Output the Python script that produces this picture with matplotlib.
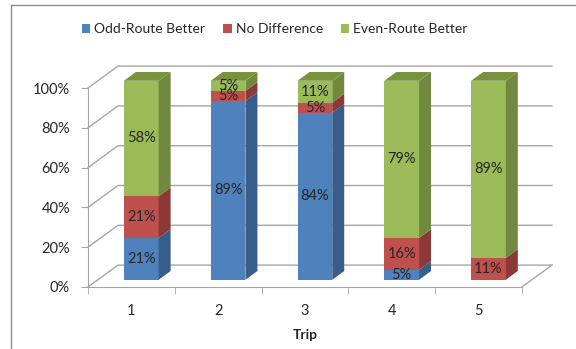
import numpy as np
import matplotlib
import matplotlib.pyplot as plt
from matplotlib.patches import Polygon, Rectangle
from matplotlib.lines import Line2D

matplotlib.use('Agg')
plt.rcParams['font.family'] = ['Lato', 'DejaVu Sans']

trips = ['1', '2', '3', '4', '5']
series_names = ['Odd-Route Better', 'No Difference', 'Even-Route Better']
odd_better = [21, 89, 84, 5, 0]
no_difference = [21, 5, 5, 16, 11]
even_better = [58, 5, 11, 79, 89]

front_colors = ['#4f81bd', '#c0504d', '#9bbb59']
side_colors = ['#385d8a', '#8c3836', '#71893f']
top_colors = ['#3f6899', '#9b3d3a', '#77933c']

GRID = '#a6a6a6'
TEXT = '#262626'

# depth of the floor in data units (x in categories, y in percent)
DX, DY = 0.345, 11.0
F_FRONT, F_BACK = 0.33, 0.73
BAR_W = 0.40


def draw_walls(ax):
    for y in range(0, 101, 20):
        ax.add_line(Line2D([0.5, 0.5 + DX, 5.5 + DX], [y, y + DY, y + DY],
                           color=GRID, lw=1, clip_on=False, zorder=1))
    ax.add_line(Line2D([5.5, 5.5 + DX], [0, DY], color=GRID, lw=1, clip_on=False, zorder=1))


def draw_bar(ax, xc, bottom, height, k, is_top, label):
    if height <= 0:
        return
    x0 = xc - BAR_W / 2 + F_FRONT * DX
    x1 = xc + BAR_W / 2 + F_FRONT * DX
    y0 = bottom + F_FRONT * DY
    y1 = bottom + height + F_FRONT * DY
    ddx = (F_BACK - F_FRONT) * DX
    ddy = (F_BACK - F_FRONT) * DY
    ax.add_patch(Rectangle((x0, y0), x1 - x0, y1 - y0, facecolor=front_colors[k],
                           edgecolor='none', clip_on=False, zorder=3))
    ax.add_patch(Polygon([(x1, y0), (x1 + ddx, y0 + ddy), (x1 + ddx, y1 + ddy), (x1, y1)],
                         closed=True, facecolor=side_colors[k], edgecolor='none',
                         clip_on=False, zorder=3))
    if is_top:
        ax.add_patch(Polygon([(x0, y1), (x1, y1), (x1 + ddx, y1 + ddy), (x0 + ddx, y1 + ddy)],
                             closed=True, facecolor=top_colors[k], edgecolor='none',
                             clip_on=False, zorder=3))
    ax.text((x0 + x1) / 2, (y0 + y1) / 2, label,
            ha='center', va='center', fontsize=10.5, color=TEXT, zorder=5)


fig = plt.figure(figsize=(5.76, 3.49), dpi=100)
ax = fig.add_axes([88 / 576, 62 / 349, 434 / 576, 199 / 349])
ax.set_xlim(0.5, 5.5)
ax.set_ylim(0, 100)
ax.patch.set_alpha(0)

# chart frame
fig.add_artist(Line2D([11 / 576, 11 / 576], [0, 1 - 4.5 / 349], transform=fig.transFigure,
                      color='#8c8c8c', lw=1))
fig.add_artist(Line2D([11 / 576, 1], [1 - 4.5 / 349, 1 - 4.5 / 349], transform=fig.transFigure,
                      color='#8c8c8c', lw=1))

draw_walls(ax)

data = np.array([odd_better, no_difference, even_better], dtype=float)
totals = data.sum(axis=0)
for i in range(len(trips)):
    bottom = 0.0
    scaled = data[:, i] / totals[i] * 100
    last = max(k for k in range(3) if scaled[k] > 0)
    for k in range(3):
        draw_bar(ax, i + 1, bottom, scaled[k], k, k == last, f"{int(data[k, i])}%")
        bottom += scaled[k]

for s in ['top', 'right']:
    ax.spines[s].set_visible(False)
for s in ['left', 'bottom']:
    ax.spines[s].set_color(GRID)
ax.set_yticks(range(0, 101, 20))
ax.set_yticklabels([f"{v}%" for v in range(0, 101, 20)])
ax.set_xticks(range(1, 6))
ax.set_xticklabels(trips)
ax.set_xticks(np.arange(0.5, 5.6, 1), minor=True)
ax.tick_params(axis='y', length=5, color=GRID, labelsize=10.5, labelcolor=TEXT, pad=8)
ax.tick_params(axis='x', which='major', length=0, labelsize=10.5, labelcolor=TEXT, pad=12)
ax.tick_params(axis='x', which='minor', length=5, color=GRID)
ax.set_xlabel('Trip', fontsize=10, fontweight='bold', color=TEXT, labelpad=8)

handles = [Rectangle((0, 0), 1, 1, facecolor=c, edgecolor='none') for c in front_colors]
fig.legend(handles, series_names, loc='center', bbox_to_anchor=(0.477, 1 - 29 / 349), ncol=3,
           frameon=False, fontsize=10, handlelength=0.6, handleheight=0.6, handletextpad=0.3,
           columnspacing=1.3, labelcolor=TEXT)

fig.savefig('out.png', dpi=100)
